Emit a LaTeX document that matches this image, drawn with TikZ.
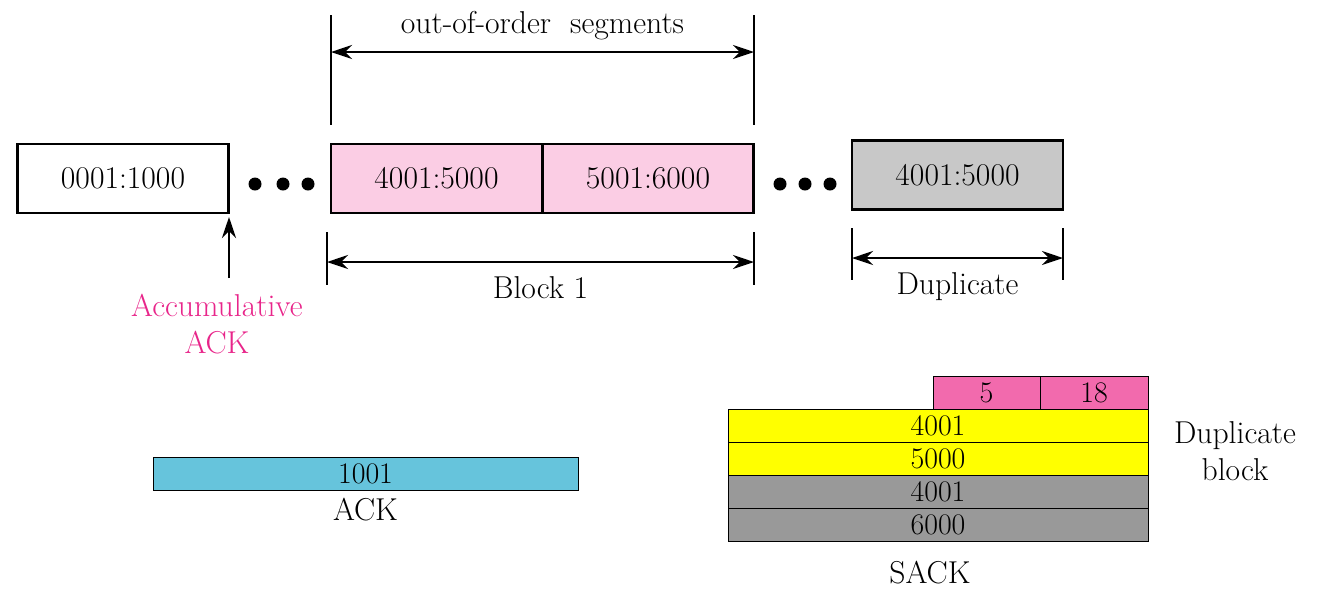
\documentclass[tikz,border=0pt]{standalone}
\usetikzlibrary{arrows.meta}
\usetikzlibrary{positioning}
\definecolor{segpink}{HTML}{FBCDE4}
\definecolor{seggray}{HTML}{C8C8C8}
\definecolor{ackblue}{HTML}{66C4DC}
\definecolor{fldpink}{HTML}{F26AAD}
\definecolor{fldyel}{HTML}{FFFF00}
\definecolor{fldgray}{HTML}{999999}
\definecolor{accmag}{HTML}{E8258A}
\begin{document}
\begin{tikzpicture}[seg/.style = {draw, line width=1.4pt, minimum width=4.22cm, minimum height=1.38cm, inner sep=0pt, font=\fontsize{18}{21}\selectfont},
	fld/.style = {draw, line width=0.5pt, minimum height=0.66cm, inner sep=0pt, font=\fontsize{17}{20}\selectfont},
	dim/.style = {line width=1.2pt, {Stealth[length=12pt,width=8pt]}-{Stealth[length=12pt,width=8pt]}},
	tick/.style = {line width=1.2pt},
	lbl/.style = {font=\fontsize{18}{21}\selectfont}]
	\useasboundingbox (0,0) rectangle (26.52,-11.88);
	% segments
	\node[seg] (S1) at (2.46,-3.57) {0001:1000};
	\node[seg, fill=segpink] (S2) at (8.73,-3.57) {4001:5000};
	\node[seg, fill=segpink] (S3) at (12.96,-3.57) {5001:6000};
	\node[seg, fill=seggray] (S4) at (19.15,-3.50) {4001:5000};
	\foreach \x in {5.10,5.66,6.16,15.60,16.10,16.60}
		\fill (\x,-3.68) circle (0.13);
	% out-of-order segments
	\coordinate (T1) at (6.62,-0.30); \coordinate (T2) at (6.62,-2.50);
	\coordinate (T3) at (15.08,-0.30); \coordinate (T4) at (15.08,-2.50);
	\draw[tick] (T1) -- (T2);
	\draw[tick] (T3) -- (T4);
	\draw[dim] (6.62,-1.04) -- node[lbl, above=0.1cm] {out-of-order\ \ segments} (15.08,-1.04);
	% block 1
	\coordinate (B1) at (6.54,-4.64); \coordinate (B2) at (6.54,-5.70);
	\coordinate (B3) at (15.08,-4.64); \coordinate (B4) at (15.08,-5.70);
	\draw[tick] (B1) -- (B2);
	\draw[tick] (B3) -- (B4);
	\draw[dim] (6.54,-5.24) -- node[lbl, below=0.15cm] {Block 1} (15.08,-5.24);
	% duplicate
	\coordinate (D1) at (17.04,-4.56); \coordinate (D2) at (17.04,-5.60);
	\coordinate (D3) at (21.26,-4.56); \coordinate (D4) at (21.26,-5.60);
	\draw[tick] (D1) -- (D2);
	\draw[tick] (D3) -- (D4);
	\draw[dim] (17.04,-5.16) -- node[lbl, below=0.15cm] {Duplicate} (21.26,-5.16);
	% accumulative ack
	\node[lbl, text=accmag, align=center, inner sep=0pt] (AA) at (4.34,-6.48) {Accumulative\\ACK};
	\coordinate (AT) at (4.58,-5.56);
	\coordinate (AH) at (4.58,-4.34);
	\draw[line width=1.4pt, -{Stealth[length=12pt,width=8pt]}] (AT) -- (AH);
	% ack
	\node[fld, fill=ackblue, minimum width=8.50cm] (ACK) at (7.31,-9.48) {1001};
	\node[lbl, below=0.02cm of ACK] (ACKL) {ACK};
	% sack
	\node[fld, fill=fldpink, minimum width=2.14cm] (F1) at (19.73,-7.86) {5};
	\node[fld, fill=fldpink, minimum width=2.16cm] (F2) at (21.88,-7.86) {18};
	\node[fld, fill=fldyel, minimum width=8.40cm] (F3) at (18.76,-8.52) {4001};
	\node[fld, fill=fldyel, minimum width=8.40cm] (F4) at (18.76,-9.18) {5000};
	\node[fld, fill=fldgray, minimum width=8.40cm] (F5) at (18.76,-9.84) {4001};
	\node[fld, fill=fldgray, minimum width=8.40cm] (F6) at (18.76,-10.50) {6000};
	\node[lbl] (SACK) at (18.60,-11.46) {SACK};
	\node[lbl, align=center] (DB) at (24.70,-9.02) {Duplicate\\block};
\end{tikzpicture}
\end{document}
